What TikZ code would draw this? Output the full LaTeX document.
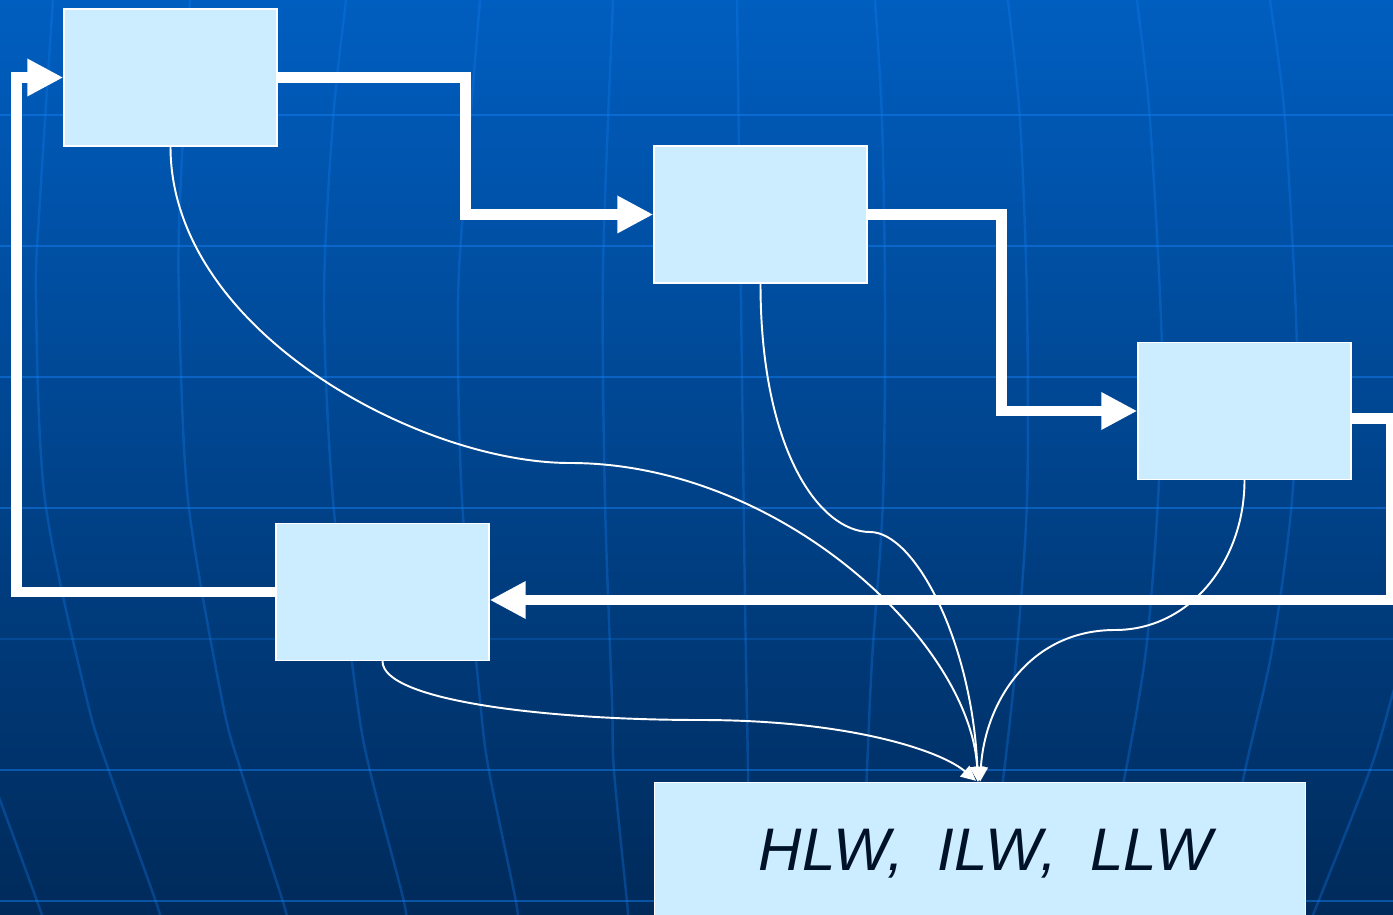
\documentclass[tikz,border=0pt]{standalone}
\usepackage{fontspec}
\setmainfont{Liberation Sans}
\usetikzlibrary{arrows.meta,calc}
\definecolor{bgtop}{RGB}{0,94,192}
\definecolor{bgbot}{RGB}{0,42,90}
\definecolor{gridc}{RGB}{20,125,240}
\definecolor{boxfill}{RGB}{204,236,255}
\definecolor{txt}{RGB}{0,18,40}
\tikzset{
  box/.style={draw=white, line width=0.8pt, fill=boxfill, rectangle, inner sep=0pt,
    minimum width=4.26cm, minimum height=2.74cm},
  flow/.style={draw=white, line width=6.2pt, -{Triangle[length=20.5pt,width=20pt]}},
  link/.style={draw=white, line width=1.1pt, -{Triangle[length=8.5pt,width=8pt]}},
  hgrid/.style={draw=gridc, line width=1.7pt, opacity=0.5},
  mgrid/.style={draw=gridc, line width=1.4pt, opacity=0.32},
}
\begin{document}
\begin{tikzpicture}[x=0.02cm,y=-0.02cm]
\useasboundingbox (0,0) rectangle (1393,915);
\clip (0,0) rectangle (1393,915);
\shade[top color=bgtop, bottom color=bgbot] (0,0) rectangle (1393,915);
% grid: parallels
\foreach \yy in {115,246,377,508,770,901} \draw[hgrid] (0,\yy) -- (1393,\yy);
\draw[hgrid,opacity=0.25] (0,639) -- (1393,639);
% grid: meridians
\draw[mgrid] plot[smooth] coordinates {(55,-20) (53,0) (40,200) (36,300) (45,500) (87,700) (109,771) (156,902) (163,930)};
\draw[mgrid] plot[smooth] coordinates {(191,-20) (190,0) (180,200) (179,300) (188,500) (222,700) (241,771) (283,902) (290,930)};
\draw[mgrid] plot[smooth] coordinates {(348,-20) (346,0) (333,120) (324,300) (333,500) (357,700) (370,771) (404,902) (406,930)};
\draw[mgrid] plot[smooth] coordinates {(482,-20) (480,0) (468,150) (458,300) (462,500) (480,700) (489,771) (516,902) (518,930)};
\draw[mgrid] plot[smooth] coordinates {(614,-20) (613,0) (603,270) (605,500) (612,700) (614,771) (627,902) (629,930)};
\draw[mgrid] plot[smooth] coordinates {(737,-20) (737,0) (741,300) (745,600) (748,770) (750,930)};
\draw[mgrid] plot[smooth] coordinates {(873,-20) (875,0) (882,120) (885,300) (883,500) (872,660) (867,770) (860,930)};
\draw[mgrid] plot[smooth] coordinates {(1006,-20) (1008,0) (1020,120) (1027,300) (1027,500) (1016,660) (1003,780) (983,930)};
\draw[mgrid] plot[smooth] coordinates {(1135,-20) (1137,0) (1150,120) (1162,350) (1158,500) (1146,650) (1124,780) (1092,930)};
\draw[mgrid] plot[smooth] coordinates {(1267,-20) (1270,0) (1285,120) (1297,350) (1292,500) (1272,650) (1243,780) (1215,930)};
\draw[mgrid] plot[smooth] coordinates {(1415,620) (1393,693) (1370,770) (1313,915) (1307,930)};
\draw[mgrid] plot[smooth] coordinates {(-8,780) (0,800) (42,915) (45,930)};
% boxes
\node[box] (b1) at (170.5,77.5) {};
\node[box] (b2) at (760.5,214.5) {};
\node[box] (b3) at (1244.5,411) {};
\node[box] (b4) at (382.5,592) {};
\node[box, minimum width=13.02cm, minimum height=2.86cm, text=txt, font=\fontsize{34.2}{40}\selectfont\itshape] (b5) at (980,854) {\hspace*{6pt}HLW,\ \ ILW,\ \ LLW};
% thick flow connectors
\draw[flow] (b1.east) -- ++(188,0) |- (b2.west);
\draw[flow] (b2.east) -- ++(134,0) |- (b3.west);
\draw[flow] ($(b3.east)+(0,7.5)$) -- ++(40,0) |- ($(b4.east)+(0,8)$);
\draw[flow] (b4.west) -- ++(-259,0) |- (b1.west);
% thin links
\draw[link] (b1.south) .. controls +(0,184) and +(-150,0) .. (570,463)
  .. controls +(210,0) and +(-8,-140) .. ($(b5.north)+(-2,0)$);
\draw[link] (b2.south) .. controls +(0,167) and +(-50,0) .. (870,532)
  .. controls +(45,0) and +(-6,-140) .. ($(b5.north)+(-2,0)$);
\draw[link] (b3.south) .. controls +(0,81) and +(75,0) .. (1115,630)
  .. controls +(-85,0) and +(5,-80) .. (b5.north);
\draw[link] (b4.south) .. controls +(0,40) and +(-150,0) .. (700,720)
  .. controls +(150,0) and +(-35,-30) .. ($(b5.north)+(-4,-1)$);
\end{tikzpicture}
\end{document}
